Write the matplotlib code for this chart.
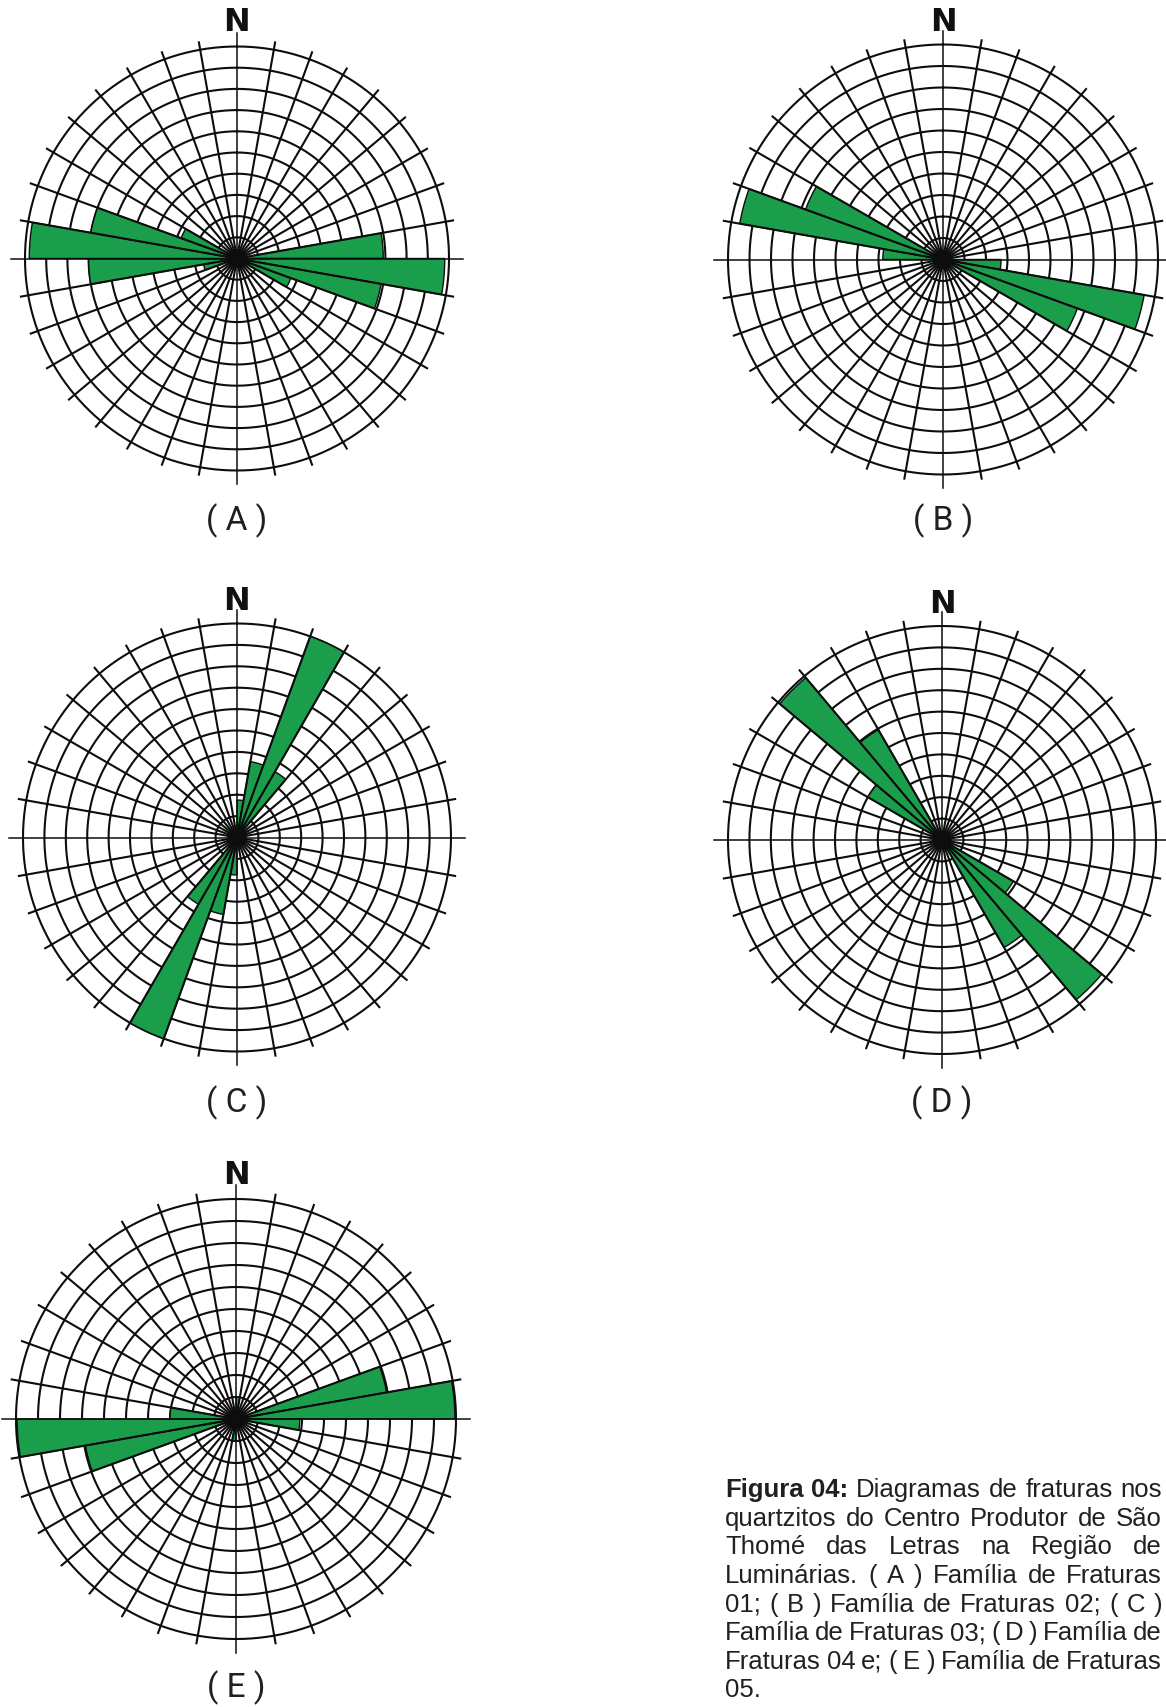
import numpy as np
import matplotlib
matplotlib.use('Agg')
import matplotlib.pyplot as plt

W, H = 1166, 1708
VERDE = '#1b9e4b'

# Diagramas de roseta: início da classe (graus a partir do N, sentido horário, classes de 10°)
# e comprimento da pétala em número de círculos (0-10)
dir_A = [250, 260, 270, 280, 290, 80, 90, 100, 110]
comp_A = [1.6, 7.0, 9.8, 7.0, 2.8, 6.9, 9.8, 6.9, 2.7]

dir_B = [270, 280, 290, 90, 100, 110]
comp_B = [2.8, 9.6, 6.8, 2.7, 9.5, 6.65]

dir_C = [0, 10, 20, 30, 180, 190, 200, 210]
comp_C = [1.75, 3.6, 10.0, 3.55, 1.75, 3.65, 10.0, 3.6]

dir_D = [300, 310, 320, 120, 130, 140]
comp_D = [4.0, 9.9, 5.95, 3.85, 9.75, 5.8]

dir_E = [0, 70, 80, 90, 180, 250, 260, 270]
comp_E = [1.0, 6.95, 9.95, 2.9, 1.0, 6.95, 9.95, 3.0]

rotulos = ['( A )', '( B )', '( C )', '( D )', '( E )']

legenda = [
    'Figura 04: Diagramas de fraturas nos',
    'quartzitos do Centro Produtor de São',
    'Thomé das Letras na Região de',
    'Luminárias. ( A ) Família de Fraturas',
    '01; ( B ) Família de Fraturas 02; ( C )',
    'Família de Fraturas 03; ( D ) Família de',
    'Fraturas 04 e; ( E ) Família de Fraturas',
    '05.',
]

fig = plt.figure(figsize=(W / 100, H / 100), dpi=100)
fig.patch.set_facecolor('white')


def rosa(cx, cy, R, dirs, comps, y_n, y_rot, rot):
    # cx, cy, R em pixels; R = raio do círculo externo (10)
    rmax = 10.7
    h = R * rmax / 10
    ax = fig.add_axes([(cx - h) / W, 1 - (cy + h) / H, 2 * h / W, 2 * h / H],
                      projection='polar')
    ax.set_theta_zero_location('N')
    ax.set_theta_direction(-1)
    ax.set_ylim(0, rmax)
    ax.axis('off')

    t = np.linspace(0, 2 * np.pi, 721)
    for k in range(1, 11):
        ax.plot(t, np.full_like(t, k), color='#0d0d0d', lw=1.5, zorder=1)

    for a in range(0, 360, 10):
        if a % 90 == 0:
            ax.plot([np.radians(a)] * 2, [0, 10.65], color='#0d0d0d', lw=1.1,
                    zorder=3, clip_on=False)
        else:
            ax.plot([np.radians(a)] * 2, [0, 10.35], color='#0d0d0d', lw=1.5,
                    zorder=3, clip_on=False)

    ax.bar(np.radians(np.array(dirs) + 5), comps, width=np.radians(10), bottom=0,
           color=VERDE, edgecolor='#0d0d0d', linewidth=1.0, zorder=2)
    ax.bar(0, 0.45, width=2 * np.pi, bottom=0, color='#0d0d0d', zorder=4)

    fig.text(cx / W, 1 - y_n / H, 'N', ha='center', va='baseline', fontsize=23,
             fontweight='bold', family='DejaVu Sans', color='#111111')
    fig.text(cx / W, 1 - y_rot / H, rot, ha='center', va='baseline', fontsize=24,
             family=['Roboto', 'DejaVu Sans'], color='#231f20')


rosa(237, 259.5, 212, dir_A, comp_A, 31.2, 530.5, rotulos[0])
rosa(943, 260.5, 215, dir_B, comp_B, 31.2, 530.5, rotulos[1])
rosa(237, 838.5, 214, dir_C, comp_C, 610, 1112.5, rotulos[2])
rosa(942, 841, 214, dir_D, comp_D, 613.4, 1112.6, rotulos[3])
rosa(236, 1420, 220, dir_E, comp_E, 1183.7, 1697, rotulos[4])

# legenda justificada
x0, x1 = 725, 1162
base0, passo = 1497.2, 28.6
renderer = fig.canvas.get_renderer()
for i, linha in enumerate(legenda):
    y = 1 - (base0 + i * passo) / H
    palavras = linha.split(' ')
    objs = []
    for j, p in enumerate(palavras):
        peso = 'bold' if (i == 0 and j < 2) else 'normal'
        objs.append(fig.text(x0 / W, y, p, fontsize=18.5, fontweight=peso,
                             family='Liberation Sans', color='#231f20',
                             va='baseline', ha='left'))
    larg = [o.get_window_extent(renderer).width for o in objs]
    if i == len(legenda) - 1 or len(objs) == 1:
        gap = 6
    else:
        gap = (x1 - x0 - sum(larg)) / (len(objs) - 1)
    x = x0
    for o, w in zip(objs, larg):
        o.set_x(x / W)
        x += w + gap

fig.savefig('out.png', dpi=100)
